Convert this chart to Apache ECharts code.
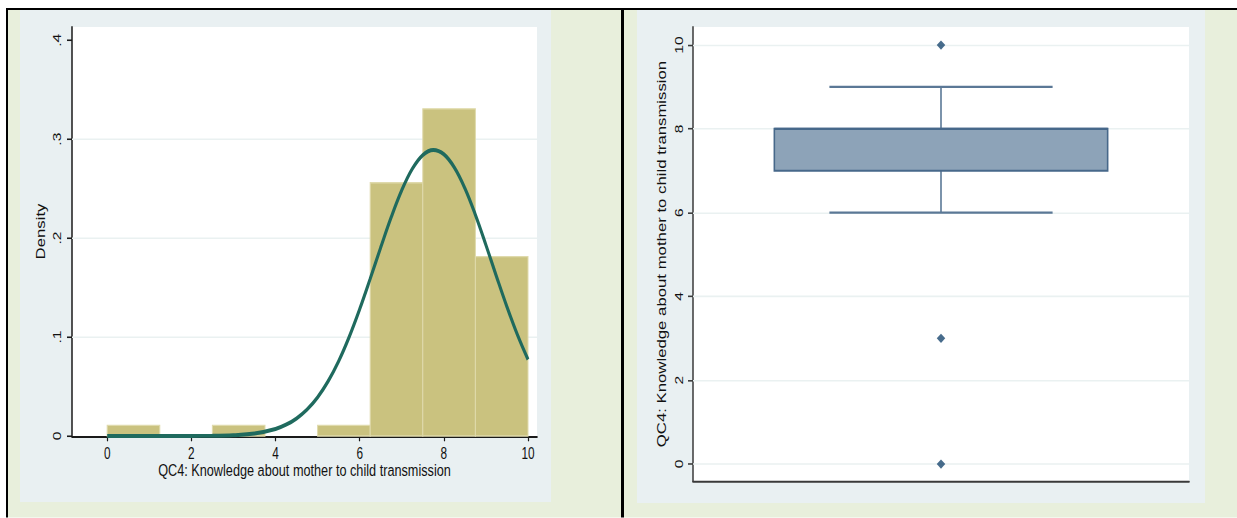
<!DOCTYPE html>
<html>
<head>
<meta charset="utf-8">
<script src="https://cdn.jsdelivr.net/npm/echarts@6/dist/echarts.min.js"></script>
<style>
  html, body { margin: 0; padding: 0; background: #ffffff; }
  #frame { position: relative; width: 1237px; height: 518px; overflow: hidden; }
  #chart { position: absolute; left: 0; top: 0; width: 1237px; transform-origin: 0 0; }
</style>
</head>
<body>
<div id="frame"><div id="chart"></div></div>
<script>
// ---- data ----
const histBinStart = [0, 2.5, 5, 6.25, 7.5, 8.75];
const histBinEnd = [1.25, 3.75, 6.25, 7.5, 8.75, 10];
const histDensity = [0.0107, 0.0107, 0.0107, 0.256, 0.3307, 0.1813];

const normalX = [0, 1, 2, 2.5, 3, 3.5, 4, 4.25, 4.5, 4.75, 5, 5.25, 5.5, 5.75, 6, 6.25, 6.5, 6.75, 7, 7.25, 7.5, 7.75, 8, 8.25, 8.5, 8.75, 9, 9.25, 9.5, 9.75, 10];
const normalY = [0, 0, 0.0001, 0.0002, 0.0008, 0.0025, 0.0071, 0.0114, 0.0178, 0.0268, 0.0391, 0.0553, 0.0756, 0.1001, 0.1282, 0.1589, 0.1906, 0.2212, 0.2484, 0.27, 0.284, 0.2891, 0.2848, 0.2714, 0.2504, 0.2235, 0.1931, 0.1614, 0.1306, 0.1022, 0.0774];

const densityTicks = [0, 0.1, 0.2, 0.3, 0.4];
const densityTickLabels = ['0', '.1', '.2', '.3', '.4'];
const densityGridLines = [0.1, 0.2, 0.3];
const scoreTicks = [0, 2, 4, 6, 8, 10];

const boxCategory = ['QC4'];
const boxStats = [6, 7, 8, 8, 9]; // lower whisker, q1, median, q3, upper whisker
const boxOutliers = [10, 3, 0];

const xTitle = 'QC4: Knowledge about mother to child transmission';

// ---- layout ----
const S = 1.32;               // vertical stretch of the whole graph
const W = 1237;
const H = 518 / S;
const el = document.getElementById('chart');
el.style.height = H + 'px';
el.style.transform = 'scaleY(' + S + ')';

const FONT = '"Liberation Sans", Arial, sans-serif';
const TICK_FS = 11.8;
const TITLE_FS = 12.7;
const GREEN = '#E8EFDC';
const PANEL = '#E9F0F2';
const GRIDC = '#EAF1F1';

function rect(x, y, w, h, fill) {
  return { type: 'rect', z: -10, silent: true,
    shape: { x: x, y: y / S, width: w, height: h / S }, style: { fill: fill } };
}

const chart = echarts.init(el, null, { renderer: 'svg', width: W, height: H });

const option = {
  animation: false,
  backgroundColor: '#ffffff',
  textStyle: { fontFamily: FONT },
  graphic: [
    rect(6, 8, 1231, 2, '#000000'),
    rect(6, 8, 2, 510, '#000000'),
    rect(621, 8, 3, 510, '#000000'),
    rect(8, 10, 613, 508, GREEN),
    rect(624, 10, 613, 508, GREEN),
    rect(20, 10, 531, 492, PANEL),
    rect(637, 10, 568, 493, PANEL),
    rect(72, 27, 465, 409, '#ffffff'),
    rect(693, 27, 496, 454, '#ffffff')
  ],
  grid: [
    { left: 72, top: 27 / S, width: 465, height: (436 - 27) / S },
    { left: 693, top: 27 / S, width: 496, height: (481 - 27) / S }
  ],
  xAxis: [
    {
      gridIndex: 0, type: 'value', min: -0.836, max: 10.214,
      name: xTitle, nameLocation: 'middle', nameGap: 20.5, nameMoveOverlap: false,
      nameTextStyle: { fontSize: TITLE_FS, lineHeight: 11, color: '#111', fontFamily: FONT },
      axisLine: { show: true, onZero: false, lineStyle: { color: '#1a1a1a', width: 1.5 } },
      axisTick: { show: true, length: 4, customValues: scoreTicks, lineStyle: { color: '#1a1a1a', width: 1.2 } },
      axisLabel: { customValues: scoreTicks, fontSize: TICK_FS, lineHeight: 9, color: '#111', margin: 8.5, fontFamily: FONT },
      splitLine: { show: false }
    },
    {
      gridIndex: 1, type: 'category', data: boxCategory,
      axisLine: { show: true, onZero: false, lineStyle: { color: '#3a3a3a', width: 1.6 } },
      axisTick: { show: false },
      axisLabel: { show: false },
      splitLine: { show: false }
    }
  ],
  yAxis: [
    {
      gridIndex: 0, type: 'value', min: 0, max: 0.4134,
      name: 'Density', nameLocation: 'middle', nameGap: 25,
      nameTextStyle: { fontSize: TITLE_FS, color: '#111', fontFamily: FONT },
      axisLine: { show: true, onZero: false, lineStyle: { color: '#1a1a1a', width: 1.5 } },
      axisTick: { show: true, length: 5, customValues: densityTicks, lineStyle: { color: '#1a1a1a', width: 1.2 } },
      axisLabel: {
        customValues: densityTicks, rotate: 90, fontSize: TICK_FS, color: '#111', margin: 9, fontFamily: FONT,
        formatter: function (v) {
          const i = densityTicks.findIndex(function (t) { return Math.abs(t - v) < 1e-9; });
          return i >= 0 ? densityTickLabels[i] : '';
        }
      },
      splitLine: { show: false }
    },
    {
      gridIndex: 1, type: 'value', min: -0.405, max: 10.43,
      name: xTitle, nameLocation: 'middle', nameGap: 25,
      nameTextStyle: { fontSize: TITLE_FS, color: '#111', fontFamily: FONT },
      axisLine: { show: true, onZero: false, lineStyle: { color: '#3a3a3a', width: 1.5 } },
      axisTick: { show: true, length: 5, customValues: scoreTicks, lineStyle: { color: '#3a3a3a', width: 1.2 } },
      axisLabel: { customValues: scoreTicks, rotate: 90, fontSize: TICK_FS, color: '#111', margin: 8.5, fontFamily: FONT },
      splitLine: { show: false }
    }
  ],
  series: [
    // light reference lines behind the histogram
    {
      type: 'line', xAxisIndex: 0, yAxisIndex: 0, data: [], z: 1, silent: true,
      markLine: {
        z: 1, silent: true, symbol: 'none', label: { show: false }, animation: false,
        lineStyle: { color: GRIDC, width: 1.2, type: 'solid' },
        data: densityGridLines.map(function (v) { return { yAxis: v }; })
      }
    },
    // histogram bars
    {
      type: 'custom', xAxisIndex: 0, yAxisIndex: 0, z: 2,
      data: histBinStart.map(function (s, i) { return [s, histBinEnd[i], histDensity[i]]; }),
      renderItem: function (params, api) {
        const p0 = api.coord([api.value(0), api.value(2)]);
        const p1 = api.coord([api.value(1), 0]);
        return {
          type: 'rect',
          shape: { x: p0[0], y: p0[1], width: p1[0] - p0[0], height: p1[1] - p0[1] },
          style: { fill: '#CAC27F', stroke: '#DFDAAC', lineWidth: 1 }
        };
      }
    },
    // normal density overlay
    {
      type: 'line', xAxisIndex: 0, yAxisIndex: 0, z: 3, smooth: 0.4, showSymbol: false,
      data: normalX.map(function (x, i) { return [x, normalY[i]]; }),
      lineStyle: { color: '#1F6A5E', width: 3 }
    },
    // reference lines behind the box
    {
      type: 'line', xAxisIndex: 1, yAxisIndex: 1, data: [], z: 1, silent: true,
      markLine: {
        z: 1, silent: true, symbol: 'none', label: { show: false }, animation: false,
        lineStyle: { color: GRIDC, width: 1.2, type: 'solid' },
        data: scoreTicks.map(function (v) { return { yAxis: v }; })
      }
    },
    // box and whiskers
    {
      type: 'custom', xAxisIndex: 1, yAxisIndex: 1, z: 2,
      data: [[0].concat(boxStats)],
      renderItem: function (params, api) {
        const cx = api.coord([api.value(0), 0])[0];
        const band = api.size([1, 0])[0];
        const boxHalf = band * 0.336;
        const capHalf = band * 0.225;
        const yLo = api.coord([0, api.value(1)])[1];
        const yQ1 = api.coord([0, api.value(2)])[1];
        const yMed = api.coord([0, api.value(3)])[1];
        const yQ3 = api.coord([0, api.value(4)])[1];
        const yHi = api.coord([0, api.value(5)])[1];
        const ws = { stroke: '#5B7896', lineWidth: 1.6 };
        return {
          type: 'group',
          children: [
            { type: 'line', shape: { x1: cx, y1: yLo, x2: cx, y2: yQ1 }, style: ws },
            { type: 'line', shape: { x1: cx, y1: yQ3, x2: cx, y2: yHi }, style: ws },
            { type: 'line', shape: { x1: cx - capHalf, y1: yLo, x2: cx + capHalf, y2: yLo }, style: ws },
            { type: 'line', shape: { x1: cx - capHalf, y1: yHi, x2: cx + capHalf, y2: yHi }, style: ws },
            { type: 'rect', shape: { x: cx - boxHalf, y: yQ3, width: boxHalf * 2, height: yQ1 - yQ3 },
              style: { fill: '#8DA3B8', stroke: '#47688A', lineWidth: 1.6 } },
            { type: 'line', shape: { x1: cx - boxHalf, y1: yMed, x2: cx + boxHalf, y2: yMed },
              style: { stroke: '#47688A', lineWidth: 1.6 } }
          ]
        };
      }
    },
    // outside values
    {
      type: 'scatter', xAxisIndex: 1, yAxisIndex: 1, z: 3,
      symbol: 'diamond', symbolSize: [8.5, 7],
      data: boxOutliers.map(function (v) { return [0, v]; }),
      itemStyle: { color: '#1A476F' }
    }
  ]
};

chart.setOption(option);
</script>
</body>
</html>
